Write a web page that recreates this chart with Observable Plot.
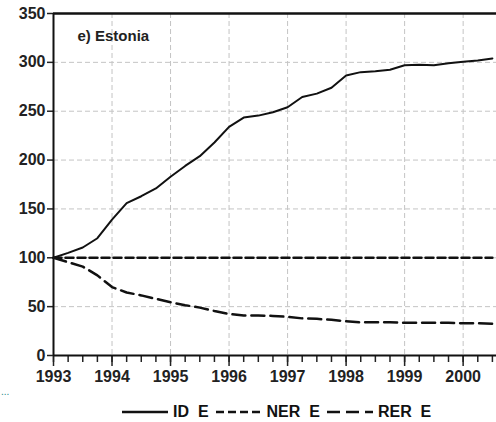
<!DOCTYPE html>
<html>
<head>
<meta charset="utf-8">
<script src="https://cdn.jsdelivr.net/npm/d3@7"></script>
<script src="https://cdn.jsdelivr.net/npm/@observablehq/plot@0.6"></script>
<style>
  body { margin: 0; background: #fff; font-family: "Liberation Sans", Arial, sans-serif; }
  #wrap { position: relative; width: 496px; height: 422px; overflow: hidden; }
  #legend { position: absolute; left: 122px; top: 403px; display: flex; align-items: center; font-weight: bold; font-size: 16px; color: #111; }
  #legend .item { display: flex; align-items: center; margin-right: 7px; }
  #legend svg { margin-right: 5px; }
  #dots { position: absolute; left: 1px; top: 386px; color: #2a8a8a; font-size: 10px; }
</style>
</head>
<body>
<div id="wrap">
  <div id="chart"></div>
  <div id="dots">...</div>
  <div id="legend"></div>
</div>
<script>
const quarters = [1993.00,1993.25,1993.50,1993.75,1994.00,1994.25,1994.50,1994.75,
  1995.00,1995.25,1995.50,1995.75,1996.00,1996.25,1996.50,1996.75,
  1997.00,1997.25,1997.50,1997.75,1998.00,1998.25,1998.50,1998.75,
  1999.00,1999.25,1999.50,1999.75,2000.00,2000.25,2000.50];
const idE  = [100,105,110.5,120,139,156,163,171,183,194,204,218,234,243.5,245.5,249,
  254,264.5,268,274,286.5,290,291,292.5,297,297.5,297,299,300.5,302,304];
const nerE = [100,100,100,100,100,100,100,100,100,100,100,100,100,100,100,100,
  100,100,100,100,100,100,100,100,100,100,100,100,100,100,100];
const rerE = [100,95.5,91,82,70,64.5,61.5,58,54.5,51.5,49,45.5,42.5,41,41,40.5,
  39.5,38,37.5,36.5,35,34,34,34,33.5,33.5,33.5,33.5,33,33,32.5];
const yearTicks = [1993,1994,1995,1996,1997,1998,1999,2000];
const yTicks = [0,50,100,150,200,250,300,350];
const seriesNames = ["ID E","NER E","RER E"];
const panelTitle = "e) Estonia";

const styles = {
  "ID E":  {dash: null, width: 2},
  "NER E": {dash: "8,4", width: 2.5},
  "RER E": {dash: "13,6", width: 2.5}
};
const seriesValues = [idE, nerE, rerE];
const rows = [];
seriesNames.forEach((s, k) => quarters.forEach((q, i) => rows.push({series: s, t: q, v: seriesValues[k][i]})));

const lineMarks = seriesNames.map(s => Plot.line(rows.filter(r => r.series === s), {
  x: "t", y: "v", stroke: "#111", strokeWidth: styles[s].width,
  strokeDasharray: styles[s].dash, strokeLinejoin: "round"
}));

const chart = Plot.plot({
  width: 496,
  height: 392,
  marginLeft: 53,
  marginTop: 13,
  marginRight: 0,
  marginBottom: 37,
  style: {fontFamily: "'Liberation Sans', Arial, sans-serif", fontSize: "15px", fontWeight: "bold", color: "#222", background: "#fff"},
  x: {domain: [1993, 2000.57], label: null},
  y: {domain: [0, 350], label: null},
  marks: [
    Plot.gridX(yearTicks.slice(1), {stroke: "#c4c4c4", strokeOpacity: 1, strokeDasharray: "5,3", strokeWidth: 1}),
    Plot.gridY(yTicks.slice(1, -1), {stroke: "#c4c4c4", strokeOpacity: 1, strokeDasharray: "5,3", strokeWidth: 1}),
    Plot.axisX(quarters, {tickSize: 7, tickFormat: () => "", stroke: "#222", strokeWidth: 1.5, label: null}),
    Plot.axisX(yearTicks, {tickSize: 11, tickPadding: 4, tickFormat: "d", stroke: "#222", strokeWidth: 1.5, fontSize: 16, fontWeight: "bold", label: null}),
    Plot.axisY(yTicks, {tickSize: 6, tickPadding: 2, stroke: "#222", strokeWidth: 1.5, fontSize: 16, fontWeight: "bold", label: null}),
    ...lineMarks,
    Plot.ruleY([0], {stroke: "#111", strokeWidth: 2}),
    Plot.ruleY([350], {stroke: "#111", strokeWidth: 2.5}),
    Plot.ruleX([1993], {stroke: "#111", strokeWidth: 2}),
    Plot.text([panelTitle], {frameAnchor: "top-left", dx: 24, dy: 17, fontSize: 15, fontWeight: "bold", fill: "#222", textAnchor: "start"})
  ]
});
document.getElementById("chart").appendChild(chart);

const legend = document.getElementById("legend");
seriesNames.forEach(s => {
  const item = document.createElement("div");
  item.className = "item";
  const st = styles[s];
  item.innerHTML = `<svg width="46" height="10"><line x1="0" y1="5" x2="46" y2="5" stroke="#111" stroke-width="2.5" ${st.dash ? `stroke-dasharray="${st.dash}"` : ""}/></svg><span>${s.replace(" ", "&nbsp;&nbsp;")}</span>`;
  legend.appendChild(item);
});
</script>
</body>
</html>
